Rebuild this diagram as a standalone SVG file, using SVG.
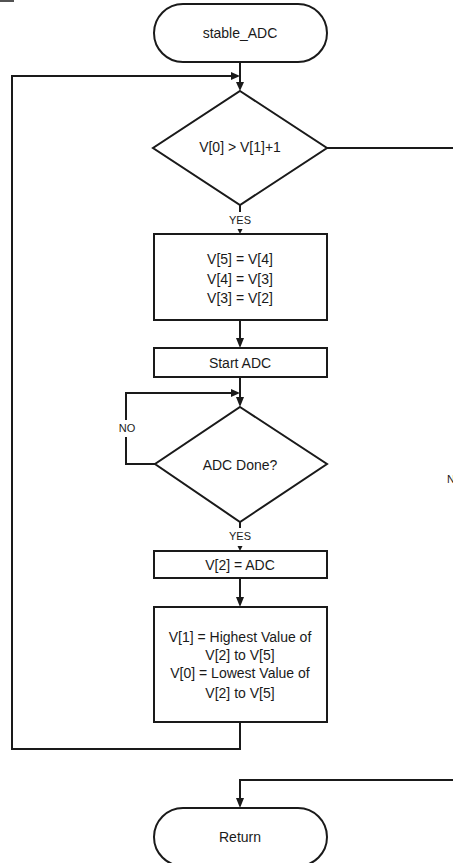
<svg xmlns="http://www.w3.org/2000/svg" width="453" height="863" viewBox="0 0 453 863">
<defs>
<style>
.s{fill:#fff;stroke:#1a1a1a;stroke-width:2}
.c{fill:none;stroke:#1a1a1a;stroke-width:2}
.t{font-family:"Liberation Sans",Arial,sans-serif;font-size:14px;fill:#1a1a1a;text-anchor:middle}
.l{font-family:"Liberation Sans",Arial,sans-serif;font-size:11px;fill:#1a1a1a;text-anchor:middle}
.a{fill:#1a1a1a}
</style>
</defs>
<rect width="453" height="863" fill="#fff"/>
<line x1="0" y1="1" x2="14" y2="1" stroke="#1a1a1a" stroke-width="1.5"/>
<g id="connectors">
<path class="c" d="M240 62V84"/>
<polygon class="a" points="236,82 244,82 240,91"/>
<path class="c" d="M240 722V749H12V76H232"/>
<polygon class="a" points="231,72 231,80 240,76"/>
<path class="c" d="M327 148H453"/>
<path class="c" d="M240 205V212"/>
<polygon class="a" points="237.5,229 242.5,229 240,234"/>
<path class="c" d="M240 320V340"/>
<polygon class="a" points="236,338 244,338 240,348"/>
<path class="c" d="M240 377V399"/>
<polygon class="a" points="236,397 244,397 240,407"/>
<path class="c" d="M155 464H126V437"/>
<path class="c" d="M126 420V393H232"/>
<polygon class="a" points="231,389 231,397 240,393"/>
<path class="c" d="M240 522V528"/>
<polygon class="a" points="237.5,546 242.5,546 240,551"/>
<path class="c" d="M240 578V599"/>
<polygon class="a" points="236,597 244,597 240,607"/>
<path class="c" d="M453 780H240V800"/>
<polygon class="a" points="236,798 244,798 240,808"/>
<text class="l" x="127" y="432">NO</text>
<text class="l" x="240" y="224">YES</text>
<text class="l" x="240" y="540">YES</text>
<text class="l" x="447" y="483" style="text-anchor:start">NO</text>
</g>
<g id="start">
<rect class="s" x="154" y="4" width="173" height="58" rx="29"/>
<text class="t" x="240" y="38">stable_ADC</text>
</g>
<g id="cond1">
<polygon class="s" points="240,91 327,148 240,205 153,148"/>
<text class="t" x="240" y="152">V[0] &gt; V[1]+1</text>
</g>
<g id="shift">
<rect class="s" x="154" y="234" width="173" height="86"/>
<text class="t" x="240" y="264">V[5] = V[4]</text>
<text class="t" x="240" y="284">V[4] = V[3]</text>
<text class="t" x="240" y="303">V[3] = V[2]</text>
</g>
<g id="startadc">
<rect class="s" x="154" y="348" width="173" height="29"/>
<text class="t" x="240" y="368">Start ADC</text>
</g>
<g id="cond2">
<polygon class="s" points="240,407 327,464 240,522 155,464"/>
<text class="t" x="240" y="470">ADC Done?</text>
</g>
<g id="read">
<rect class="s" x="154" y="551" width="173" height="27"/>
<text class="t" x="240" y="570">V[2] = ADC</text>
</g>
<g id="minmax">
<rect class="s" x="154" y="607" width="173" height="115"/>
<text class="t" x="240" y="642">V[1] = Highest Value of</text>
<text class="t" x="240" y="660">V[2] to V[5]</text>
<text class="t" x="240" y="678">V[0] = Lowest Value of</text>
<text class="t" x="240" y="698">V[2] to V[5]</text>
</g>
<g id="return">
<rect class="s" x="154" y="808" width="173" height="58" rx="29"/>
<text class="t" x="240" y="842">Return</text>
</g>
</svg>
